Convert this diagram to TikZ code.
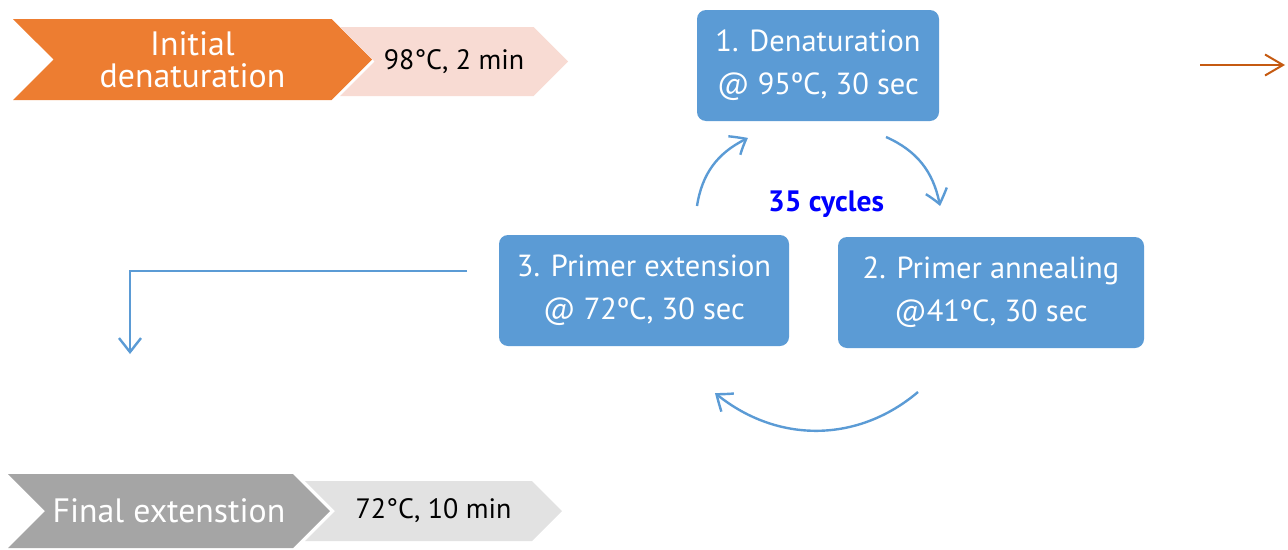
\documentclass[tikz,border=0pt]{standalone}
\usepackage{fontspec}
\setmainfont{PT Sans}
\usepackage{xcolor}
\usepackage{tikz}
\usetikzlibrary{arrows.meta, shapes.symbols, bending}

\definecolor{pcrorange}{HTML}{ED7D31}
\definecolor{pcrpink}{HTML}{F8DBD3}
\definecolor{pcrgray}{HTML}{A5A5A5}
\definecolor{pcrlight}{HTML}{E2E2E2}
\definecolor{pcrblue}{HTML}{5B9BD5}
\definecolor{pcrdark}{HTML}{C55A11}

\begin{document}
\begin{tikzpicture}[
    x=1pt, y=-1pt,
    chevron/.style={signal, signal from=west, signal to=east, signal pointer angle=90, draw=none, inner sep=0pt, align=center},
    stepname/.style={chevron, text=white, font=\fontsize{33.8}{32}\selectfont},
    steptemp/.style={chevron, text=black, font=\fontsize{28}{30}\selectfont},
    cyclebox/.style={rectangle, rounded corners=9pt, fill=pcrblue, draw=none, text=white, align=center, font=\fontsize{30.5}{43}\selectfont},
    loop/.style={draw=pcrblue, line width=2.4pt, -{Straight Barb[length=14pt, width=22pt, bend]}},
    flow/.style={draw=pcrblue, line width=2.4pt, -{Straight Barb[length=14pt, width=22pt]}}
]
    \useasboundingbox (0,0) rectangle (1288,549);

    % Initial and final chevrons
    \node[stepname, fill=pcrorange, minimum width=359, minimum height=81] (INIT) at (192.5, 59.5) {Initial\\denaturation};
    \node[steptemp, fill=pcrpink, minimum width=228, minimum height=69] (INITT) at (454, 61.5) {98°C, 2 min};
    \node[stepname, fill=pcrgray, minimum width=322, minimum height=74] (FINAL) at (169, 511) {Final extenstion};
    \node[steptemp, fill=pcrlight, minimum width=257, minimum height=60] (FINALT) at (433.5, 511) {72°C, 10 min};

    % The three cycle steps
    \node[cyclebox, minimum width=242, minimum height=111] (DEN) at (818, 65.5) {1. Denaturation\\@ 95ºC, 30 sec};
    \node[cyclebox, minimum width=306, minimum height=111] (ANN) at (991, 292.5) {2. Primer annealing\\@41ºC, 30 sec};
    \node[cyclebox, minimum width=290, minimum height=111] (EXT) at (644, 290.5) {3. Primer extension\\@ 72ºC, 30 sec};

    \node[text=blue, font=\fontsize{29.5}{30}\selectfont\bfseries] (CYC) at (826, 204) {35 cycles};

    % Arc ends
    \coordinate (a1s) at (886, 137);
    \coordinate (a1e) at (940, 206);
    \coordinate (a2s) at (918, 392);
    \coordinate (a2e) at (715, 393);
    \coordinate (a3s) at (697, 206);
    \coordinate (a3e) at (748, 138);
    \draw[loop] (a1s) to[bend left=28] (a1e);
    \draw[loop] (a2s) to[bend left=40] (a2e);
    \draw[loop] (a3s) to[bend left=28] (a3e);

    % Exit from the loop
    \coordinate (outs) at (467, 271);
    \coordinate (oute) at (130, 354);
    \draw[flow] (outs) -| (oute);

    % Arrow on the right
    \coordinate (nexts) at (1200, 65);
    \coordinate (nexte) at (1285, 65);
    \draw[draw=pcrdark, line width=2pt, -{Straight Barb[length=18pt, width=21pt]}] (nexts) -- (nexte);
\end{tikzpicture}
\end{document}
